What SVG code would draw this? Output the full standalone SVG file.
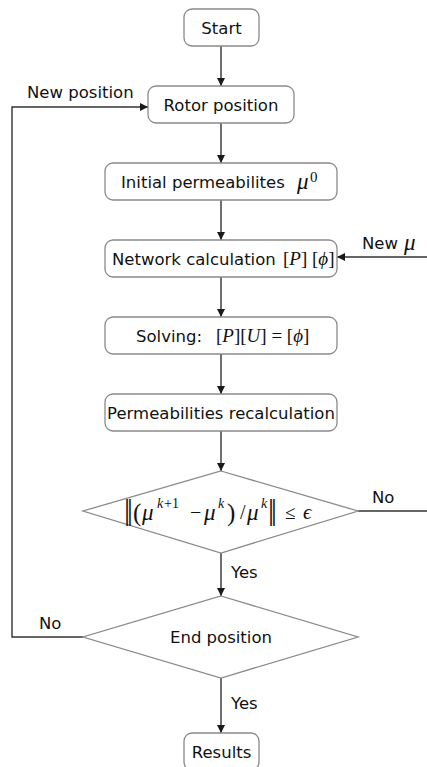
<svg xmlns="http://www.w3.org/2000/svg" width="427" height="767" viewBox="0 0 427 767">
<defs>
<marker id="ah" markerWidth="10" markerHeight="10" refX="9" refY="5" orient="auto" markerUnits="userSpaceOnUse">
<path d="M1,1 L9,5 L1,9 Z" fill="#1a1a1a"/>
</marker>
<style>
.box{fill:#fff;stroke:#8a8a8a;stroke-width:1.3}
.t{font-family:"DejaVu Sans",Verdana,sans-serif;font-size:16.5px;fill:#111}
.m{font-family:"Liberation Serif","DejaVu Serif",serif;font-style:italic;fill:#111}
.r{font-family:"Liberation Serif","DejaVu Serif",serif;fill:#111}
.d{font-family:"DejaVu Sans",sans-serif;fill:#111}
.c{fill:none;stroke:#333;stroke-width:1.4}
</style>
</defs>
<rect width="427" height="767" fill="#fff"/>
<g id="connectors">
<line class="c" x1="221" y1="46" x2="221" y2="86" marker-end="url(#ah)"/>
<line class="c" x1="221" y1="123" x2="221" y2="163" marker-end="url(#ah)"/>
<line class="c" x1="221" y1="200" x2="221" y2="240" marker-end="url(#ah)"/>
<line class="c" x1="221" y1="277" x2="221" y2="317" marker-end="url(#ah)"/>
<line class="c" x1="221" y1="354" x2="221" y2="394" marker-end="url(#ah)"/>
<line class="c" x1="221" y1="431" x2="221" y2="471" marker-end="url(#ah)"/>
<line class="c" x1="221" y1="553" x2="221" y2="596" marker-end="url(#ah)"/>
<line class="c" x1="221" y1="678" x2="221" y2="733" marker-end="url(#ah)"/>
<polyline class="c" points="83,637 12,637 12,107 148,107" marker-end="url(#ah)"/>
<line class="c" x1="427" y1="257" x2="337" y2="257" marker-end="url(#ah)"/>
<line class="c" x1="358" y1="511" x2="427" y2="511"/>
<text class="t" x="27" y="98">New position</text>
<text class="t" x="362" y="249">New</text>
<text class="m" x="404" y="250" font-size="23">μ</text>
<text class="t" x="372" y="503">No</text>
<text class="t" x="231" y="578">Yes</text>
<text class="t" x="39" y="629">No</text>
<text class="t" x="231" y="709">Yes</text>
</g>
<g id="start">
<rect class="box" x="184" y="9" width="75" height="37" rx="8"/>
<text class="t" x="221.5" y="34" text-anchor="middle">Start</text>
</g>
<g id="rotor">
<rect class="box" x="148" y="86" width="146" height="37" rx="8"/>
<text class="t" x="221" y="110.5" text-anchor="middle">Rotor position</text>
</g>
<g id="initial">
<rect class="box" x="105" y="163" width="232" height="37" rx="8"/>
<text class="t" x="121" y="188">Initial permeabilites</text>
<text class="m" x="297" y="189" font-size="23">μ</text>
<text class="r" x="310" y="182" font-size="15">0</text>
</g>
<g id="network">
<rect class="box" x="105" y="240" width="232" height="37" rx="8"/>
<text class="t" x="112" y="265">Network calculation</text>
<text class="r" x="283" y="265" font-size="19">[<tspan class="m">P</tspan>] [<tspan class="m">ϕ</tspan>]</text>
</g>
<g id="solving">
<rect class="box" x="105" y="317" width="232" height="37" rx="8"/>
<text class="t" x="136" y="342">Solving:</text>
<text class="r" x="216" y="342" font-size="19">[<tspan class="m">P</tspan>][<tspan class="m">U</tspan>] = [<tspan class="m">ϕ</tspan>]</text>
</g>
<g id="recalc">
<rect class="box" x="105" y="394" width="232" height="37" rx="8"/>
<text class="t" x="221" y="418.5" text-anchor="middle">Permeabilities recalculation</text>
</g>
<g id="convergence">
<polygon class="box" points="221,471 358,511 221,553 83,511"/>
<text class="d" x="0" y="0" font-size="20" transform="translate(124,519) scale(0.9,1.35)">‖</text>
<text class="r" x="133" y="521" font-size="25">(</text>
<text class="m" x="142" y="520" font-size="23">μ</text>
<text class="m" x="157" y="508" font-size="14">k</text>
<text class="r" x="164" y="508" font-size="14">+1</text>
<text class="r" x="190" y="519" font-size="20">−</text>
<text class="m" x="204" y="520" font-size="23">μ</text>
<text class="m" x="218" y="508" font-size="14">k</text>
<text class="r" x="227" y="521" font-size="25">)</text>
<text class="r" x="240" y="519" font-size="20">/</text>
<text class="m" x="247" y="520" font-size="23">μ</text>
<text class="m" x="261" y="508" font-size="14">k</text>
<text class="d" x="0" y="0" font-size="20" transform="translate(268,519) scale(0.9,1.35)">‖</text>
<text class="r" x="285" y="519" font-size="19">≤</text>
<text class="m" x="303" y="519" font-size="21">ϵ</text>
</g>
<g id="endpos">
<polygon class="box" points="221,596 358,637 221,678 83,637"/>
<text class="t" x="221" y="643" text-anchor="middle">End position</text>
</g>
<g id="results">
<rect class="box" x="184" y="733" width="75" height="37" rx="8"/>
<text class="t" x="221.5" y="758" text-anchor="middle">Results</text>
</g>
</svg>
